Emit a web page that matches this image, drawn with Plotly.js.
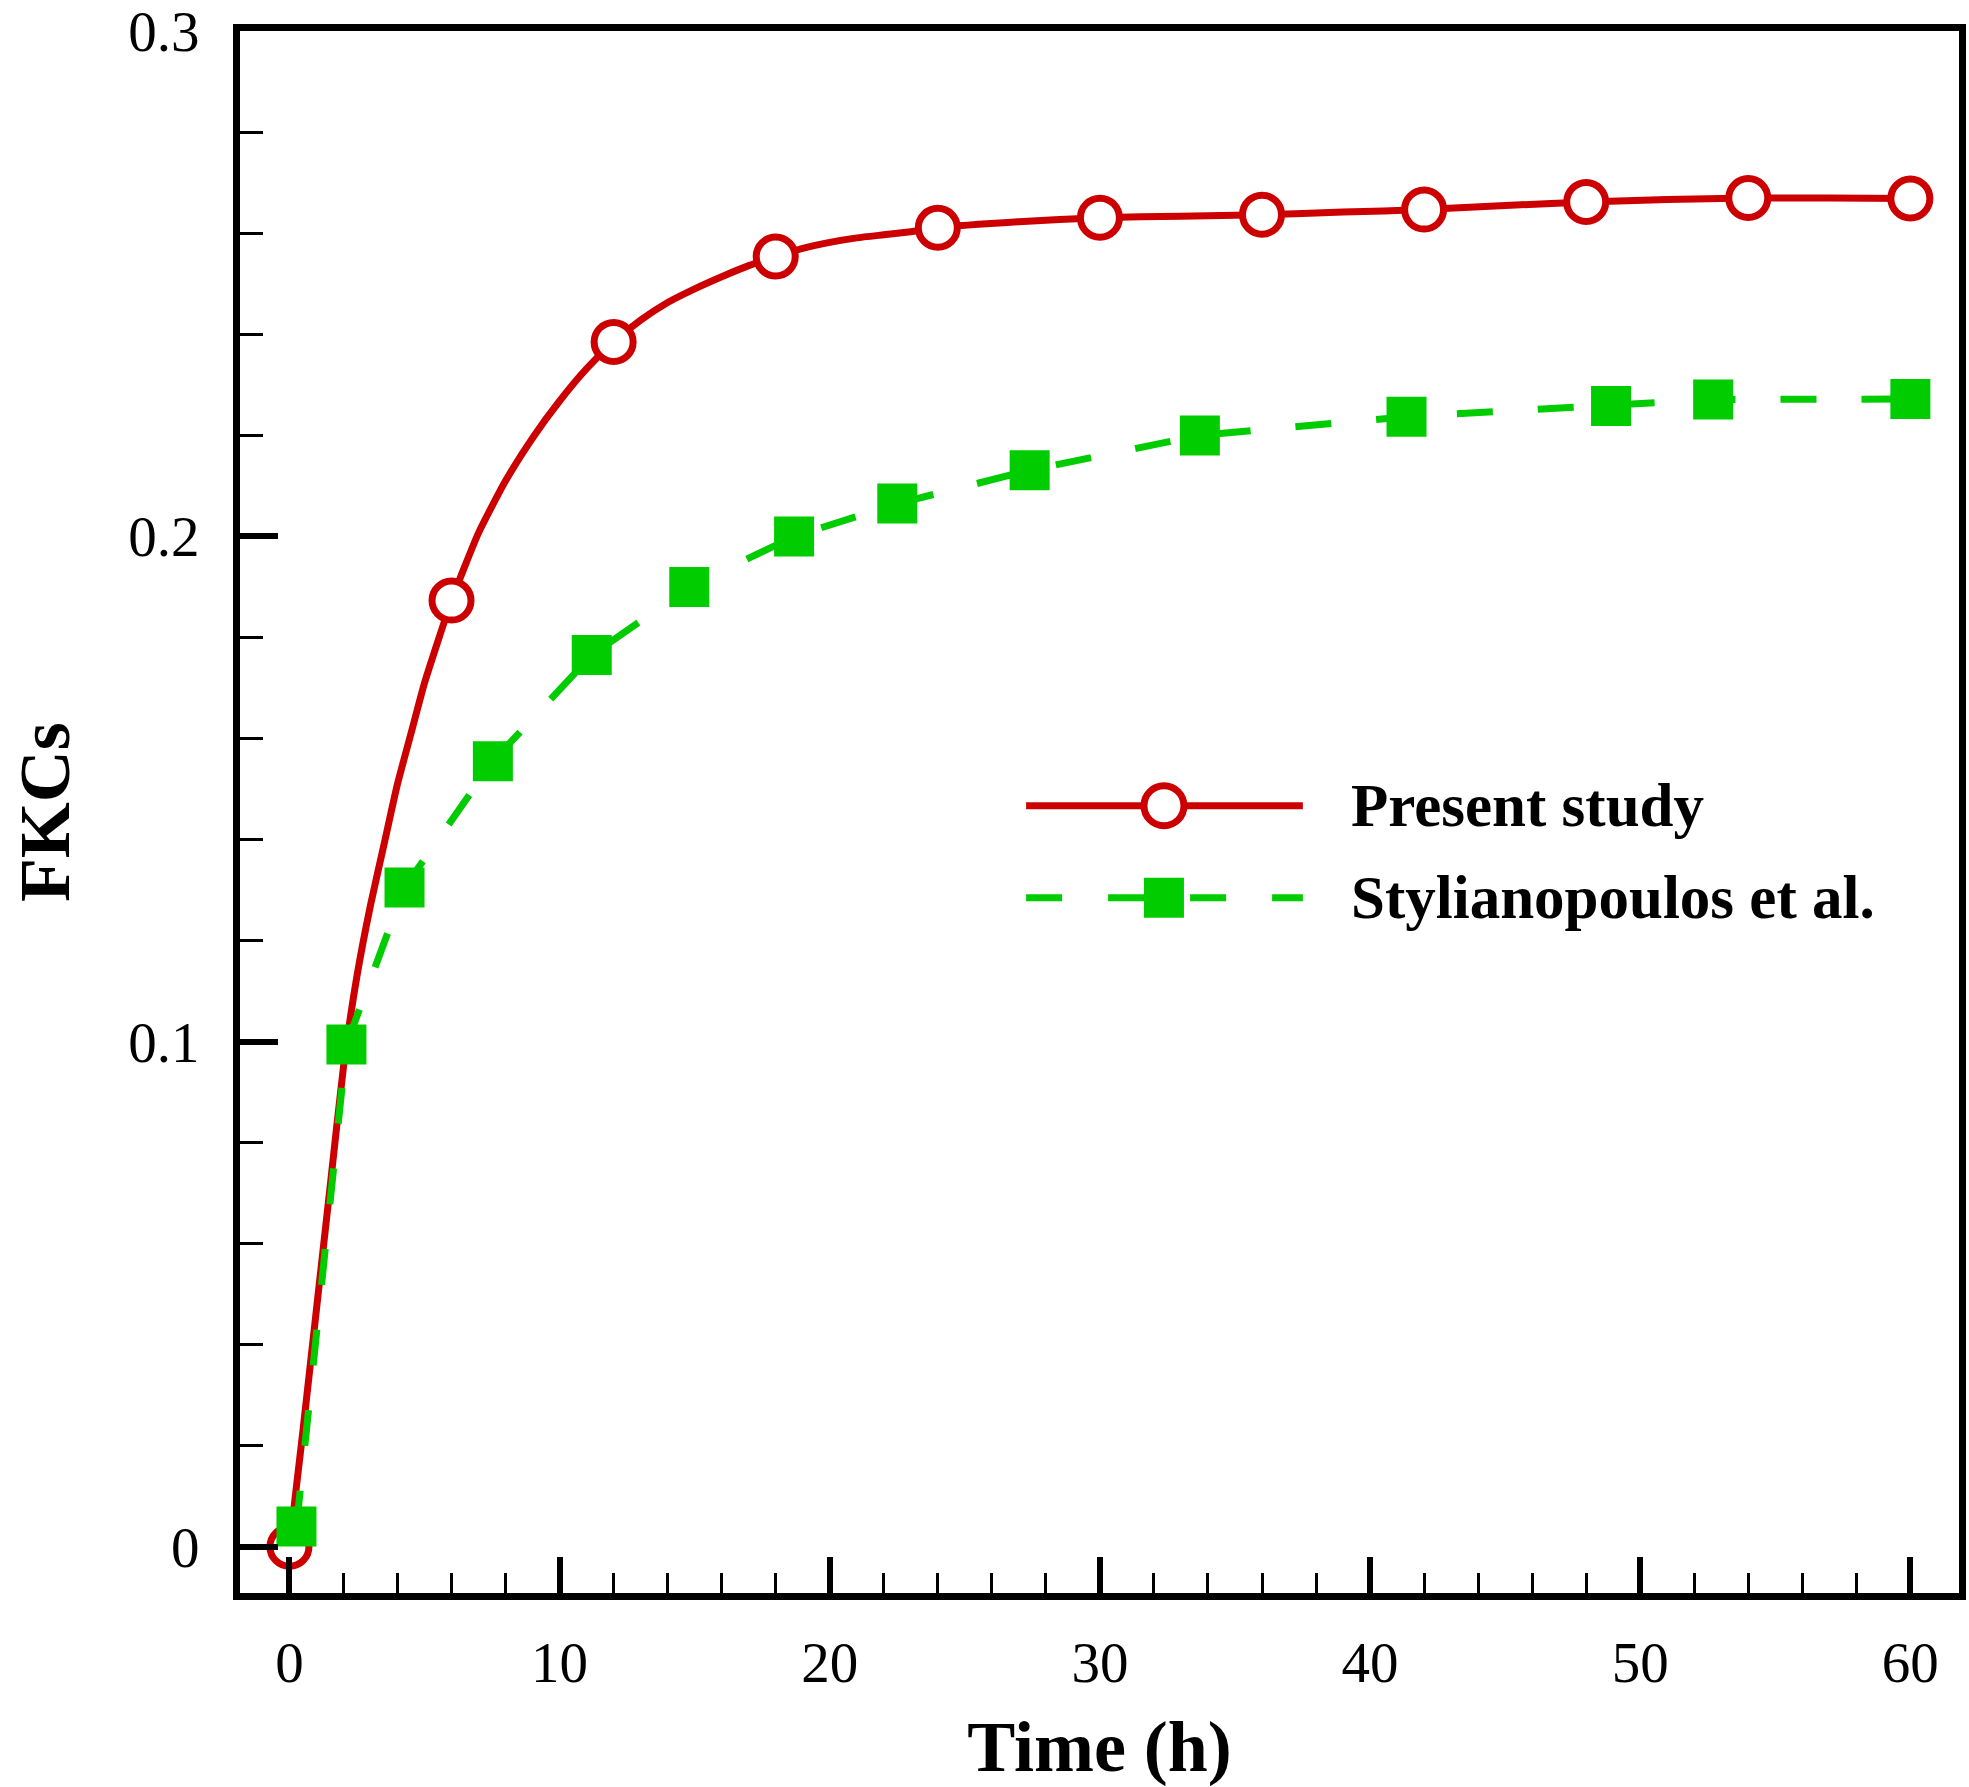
<!DOCTYPE html>
<html>
<head>
<meta charset="utf-8">
<script src="https://cdn.plot.ly/plotly-3.0.1.min.js"></script>
<style>
  html, body { margin: 0; padding: 0; background: #ffffff; }
  #chart { width: 1969px; height: 1787px; }
</style>
</head>
<body>
<div id="chart"></div>
<script>
// ---- Data ----
// Present study: continuous curve
const presentCurveTime  = [0, 0.5, 1, 1.5, 2, 2.5, 3, 3.5, 4, 4.5, 5, 6, 7, 8, 9, 10, 11, 12, 13, 14, 15, 16, 17, 18, 19, 20, 21, 22, 23, 24, 27, 30, 33, 36, 39, 42, 45, 48, 51, 54, 57, 60];
const presentCurveValue = [0, 0.023, 0.047, 0.071, 0.095, 0.113, 0.127, 0.139, 0.151, 0.161, 0.171, 0.1873, 0.2007, 0.2110, 0.2195, 0.2268, 0.2332, 0.2385, 0.2428, 0.2463, 0.2490, 0.2514, 0.2536, 0.2554, 0.2570, 0.2582, 0.2591, 0.2597, 0.2603, 0.2611, 0.2623, 0.2631, 0.2634, 0.2637, 0.2642, 0.2647, 0.2655, 0.2662, 0.2667, 0.2670, 0.2670, 0.2669];
// Present study: marked points
const presentMarkTime  = [0, 6, 12, 18, 24, 30, 36, 42, 48, 54, 60];
const presentMarkValue = [0, 0.1873, 0.2385, 0.2554, 0.2611, 0.2631, 0.2637, 0.2647, 0.2662, 0.2670, 0.2669];
// Stylianopoulos et al.
const stylTime  = [0.26, 2.11, 4.26, 7.53, 11.19, 14.8, 18.68, 22.5, 27.4, 33.7, 41.35, 48.92, 52.7, 60.0];
const stylValue = [0.004, 0.0994, 0.1305, 0.1555, 0.1765, 0.1900, 0.2000, 0.2065, 0.2131, 0.2200, 0.2237, 0.2258, 0.2271, 0.2272];
// Labels
const seriesNames = ['Present study', 'Stylianopoulos et al.'];
const xTitle = 'Time (h)';
const yTitle = 'FKCs';

const RED = '#CC0000';
const GREEN = '#00CC00';
const SERIF = 'Liberation Serif, Times New Roman, serif';

const traces = [
  {
    x: presentCurveTime, y: presentCurveValue, type: 'scatter', mode: 'lines',
    line: { color: RED, width: 7, shape: 'spline', smoothing: 0.5 },
    name: seriesNames[0], showlegend: false, hoverinfo: 'skip'
  },
  {
    x: presentMarkTime, y: presentMarkValue, type: 'scatter', mode: 'markers',
    marker: { symbol: 'circle', size: 39, color: '#ffffff', line: { color: RED, width: 7 } },
    name: seriesNames[0], showlegend: false
  },
  {
    x: stylTime, y: stylValue, type: 'scatter', mode: 'lines+markers',
    line: { color: GREEN, width: 7, dash: '36px,45px' },
    marker: { symbol: 'square', size: 40, color: GREEN, line: { width: 0 } },
    name: seriesNames[1], showlegend: false
  }
];

// Legend drawn as layout decoration (paper coordinates)
const legX0 = 0.4573, legX1 = 0.6183, legXm = 0.5375, legXt = 0.6451;
const legY = [0.504, 0.4451];

const shapes = [
  { type: 'line', xref: 'paper', yref: 'paper', x0: legX0, x1: legX1, y0: legY[0], y1: legY[0],
    line: { color: RED, width: 7 } },
  { type: 'circle', xref: 'paper', yref: 'paper', xsizemode: 'pixel', ysizemode: 'pixel',
    xanchor: legXm, yanchor: legY[0], x0: -20, x1: 20, y0: -20, y1: 20,
    fillcolor: '#ffffff', line: { color: RED, width: 7 } },
  { type: 'line', xref: 'paper', yref: 'paper', x0: legX0, x1: legX1, y0: legY[1], y1: legY[1],
    line: { color: GREEN, width: 7, dash: '36px,46px' } },
  { type: 'rect', xref: 'paper', yref: 'paper', xsizemode: 'pixel', ysizemode: 'pixel',
    xanchor: legXm, yanchor: legY[1], x0: -20, x1: 20, y0: -20, y1: 20,
    fillcolor: GREEN, line: { width: 0 } }
];

const annotations = seriesNames.map((n, i) => ({
  xref: 'paper', yref: 'paper', x: legXt, y: legY[i], xanchor: 'left', yanchor: 'middle',
  text: n, showarrow: false,
  font: { family: SERIF, size: 61, color: '#000000', weight: 'bold' }
}));
// y-axis title
annotations.push({
  xref: 'paper', yref: 'paper', x: -0.1378, y: 0.5, xanchor: 'left', yanchor: 'middle',
  textangle: -90, text: yTitle, showarrow: false,
  font: { family: SERIF, size: 72, color: '#000000', weight: 'bold' }
});

const axisCommon = {
  showgrid: false, zeroline: false,
  showline: true, linecolor: '#000000', linewidth: 7, mirror: true,
  ticks: 'inside', tickcolor: '#000000', ticklabeloverflow: 'allow',
  tickfont: { family: SERIF, size: 57, color: '#000000' }
};

const layout = {
  width: 1969, height: 1787,
  margin: { l: 239.5, r: 9.5, t: 31, b: 193.5 },
  paper_bgcolor: '#ffffff', plot_bgcolor: '#ffffff',
  showlegend: false,
  xaxis: Object.assign({}, axisCommon, {
    range: [-1.83, 61.8], tick0: 0, dtick: 10, ticklen: 36, tickwidth: 6,
    ticklabelstandoff: 14,
    minor: { tick0: 0, dtick: 2, ticks: 'inside', ticklen: 20, tickwidth: 3, tickcolor: '#000000', showgrid: false },
    title: { text: xTitle, standoff: 40, font: { family: SERIF, size: 72, color: '#000000', weight: 'bold' } }
  }),
  yaxis: Object.assign({}, axisCommon, {
    range: [-0.00916, 0.30005], tick0: 0, dtick: 0.1, ticklen: 38, tickwidth: 6,
    ticklabelstandoff: 22,
    minor: { tick0: 0, dtick: 0.02, ticks: 'inside', ticklen: 23, tickwidth: 3, tickcolor: '#000000', showgrid: false }
  }),
  shapes: shapes,
  annotations: annotations
};

Plotly.newPlot('chart', traces, layout, { staticPlot: true, displayModeBar: false });
</script>
</body>
</html>
